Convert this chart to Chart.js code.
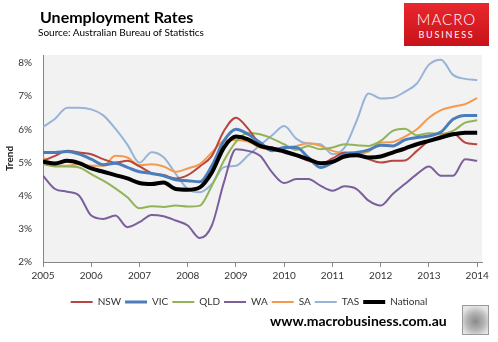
<!DOCTYPE html>
<html><head><meta charset="utf-8">
<script src="https://cdn.jsdelivr.net/npm/chart.js@4.4.0/dist/chart.umd.min.js"></script>
<style>
html,body{margin:0;padding:0;background:#fff;}
body{width:498px;height:342px;position:relative;overflow:hidden;font-family:Lato,"Liberation Sans",sans-serif;}
#c{position:absolute;left:0;top:0;}
.t{position:absolute;white-space:nowrap;}
#logo{position:absolute;left:404px;top:3px;width:85px;height:43px;background:linear-gradient(#e8282d,#c8121a);color:#fff;text-align:center;font-family:Lato,"Liberation Sans",sans-serif;}
#wolf{position:absolute;left:462px;top:305px;width:25px;height:28px;border:1px solid #9a9a9a;background:radial-gradient(circle at 50% 55%,#8a8a8a 0,#b5b5b5 45%,#e6e6e6 80%);}
</style></head><body>
<canvas id="c" width="498" height="342"></canvas>
<div class="t" style="left:40px;top:8px;font-size:16px;font-weight:bold;line-height:17px;color:#000">Unemployment Rates</div>
<div class="t" style="left:38px;top:27px;font-size:10px;line-height:11px;color:#000">Source: Australian Bureau of Statistics</div>
<div id="logo"><div style="font-size:15px;letter-spacing:1px;line-height:15px;margin-top:9px;font-weight:300;">MACRO</div><div style="font-size:9px;letter-spacing:1.8px;line-height:10px;margin-top:3px;font-weight:400;">BUSINESS</div></div>
<div class="t" style="left:270px;top:314px;font-size:14px;font-weight:bold;line-height:14px;color:#000">www.macrobusiness.com.au</div>
<div id="wolf"></div>
<script>
const periods = [2005,2005.25,2005.5,2005.75,2006,2006.25,2006.5,2006.75,2007,2007.25,2007.5,2007.75,2008,2008.25,2008.5,2008.75,2009,2009.25,2009.5,2009.75,2010,2010.25,2010.5,2010.75,2011,2011.25,2011.5,2011.75,2012,2012.25,2012.5,2012.75,2013,2013.25,2013.5,2013.75,2014];
const yearTicks = [2005,2006,2007,2008,2009,2010,2011,2012,2013,2014];
const pctTicks = [2,3,4,5,6,7,8];

const NSW = [5.05,5.2,5.35,5.3,5.25,5.1,5.0,5.05,4.88,4.68,4.62,4.52,4.62,4.88,5.2,5.95,6.35,6.02,5.55,5.45,5.38,5.2,5.05,4.96,5.12,5.3,5.28,5.1,5.0,5.05,5.06,5.35,5.65,5.8,5.87,5.6,5.55];
const VIC = [5.3,5.3,5.33,5.25,5.1,4.93,4.98,4.85,4.72,4.67,4.6,4.48,4.45,4.42,4.9,5.65,6.0,5.85,5.6,5.35,5.45,5.45,5.15,4.85,5.0,5.25,5.3,5.38,5.52,5.5,5.68,5.75,5.8,5.92,6.3,6.42,6.42];
const QLD = [4.95,4.88,4.88,4.85,4.65,4.45,4.22,3.95,3.62,3.68,3.66,3.7,3.67,3.7,4.3,5.05,5.62,5.9,5.85,5.72,5.55,5.38,5.5,5.4,5.45,5.55,5.52,5.5,5.65,5.95,6.02,5.82,5.88,5.86,5.95,6.2,6.27];
const WA  = [4.6,4.2,4.12,4.0,3.4,3.3,3.4,3.05,3.2,3.42,3.38,3.25,3.1,2.72,3.1,4.4,5.4,5.35,5.2,4.7,4.38,4.5,4.5,4.3,4.15,4.28,4.2,3.85,3.7,4.05,4.35,4.65,4.88,4.6,4.6,5.1,5.05];
const SA  = [5.15,4.92,4.9,4.95,4.9,4.9,5.2,5.15,4.92,4.95,4.88,4.72,4.82,4.95,5.3,5.65,5.68,5.63,5.45,5.38,5.45,5.5,5.58,5.5,5.35,5.28,5.25,5.33,5.6,5.62,5.78,6.0,6.35,6.58,6.68,6.76,6.95];
const TAS = [6.07,6.32,6.65,6.65,6.6,6.42,6.02,5.54,4.99,5.31,5.16,4.66,4.2,4.1,4.35,4.86,4.9,5.21,5.52,5.82,6.1,5.72,5.57,5.55,5.25,5.45,6.25,7.08,6.93,6.95,7.13,7.38,7.95,8.1,7.64,7.52,7.48];
const National = [5.02,4.97,5.05,4.98,4.82,4.72,4.62,4.52,4.38,4.35,4.4,4.2,4.18,4.25,4.7,5.45,5.78,5.7,5.5,5.42,5.33,5.22,5.1,4.98,5.02,5.18,5.22,5.15,5.18,5.3,5.42,5.55,5.65,5.75,5.85,5.9,5.9];

const FONT = 'Lato, "Liberation Sans", sans-serif';
function pts(arr){ return periods.map((p,i)=>({x:p,y:arr[i]})); }
function ds(label, arr, color, width, order){
  return {label, data:pts(arr), borderColor:color, backgroundColor:color, borderWidth:width,
    pointRadius:0, cubicInterpolationMode:'monotone', order};
}
const bg = {id:'bg', beforeDraw(chart){const {ctx,chartArea:a}=chart; ctx.save(); ctx.fillStyle='#f2f2f2'; ctx.fillRect(a.left,a.top,a.right-a.left,a.bottom-a.top); ctx.restore();}};

new Chart(document.getElementById('c'), {
  type:'line',
  data:{datasets:[
    ds('NSW', NSW, '#b5473f', 2, 2),
    ds('VIC', VIC, '#4a7dba', 3, 1),
    ds('QLD', QLD, '#93b456', 2, 3),
    ds('WA', WA, '#7a5f9c', 2, 4),
    ds('SA', SA, '#f59a4c', 2, 5),
    ds('TAS', TAS, '#98b3d8', 2, 6),
    ds('National', National, '#000000', 4, 0)
  ]},
  options:{
    responsive:false, animation:false, devicePixelRatio:1,
    layout:{padding:{top:55,right:16,left:16,bottom:25}},
    plugins:{
      legend:{position:'bottom', labels:{usePointStyle:true, pointStyle:'line', pointStyleWidth:22, padding:4,
        font:{size:10,family:FONT}, color:'#333', sort:(a,b)=>a.datasetIndex-b.datasetIndex}},
      tooltip:{enabled:false}
    },
    scales:{
      x:{type:'linear', min:2005, max:2014.1,
        afterBuildTicks:s=>{s.ticks=yearTicks.map(v=>({value:v}));},
        ticks:{callback:v=>String(v), font:{size:10,family:FONT}, color:'#333', padding:3, maxRotation:0, autoSkip:false},
        grid:{display:true, drawOnChartArea:false, drawTicks:true, tickLength:5, color:'#868686'},
        border:{display:true, color:'#868686', width:1},
        afterFit:s=>{s.height=31;}
      },
      y:{min:2, max:8.24,
        afterBuildTicks:s=>{s.ticks=pctTicks.map(v=>({value:v}));},
        ticks:{callback:v=>v+'%', padding:11, font:{size:10,family:FONT}, color:'#333'},
        grid:{display:false, drawTicks:false},
        border:{display:true, color:'#868686', width:1},
        title:{display:true, text:'Trend', font:{size:10,weight:'bold',family:FONT}, color:'#222', padding:{top:-12,bottom:0}},
        afterFit:s=>{s.width=27;}
      }
    }
  },
  plugins:[bg]
});
</script>
</body></html>
